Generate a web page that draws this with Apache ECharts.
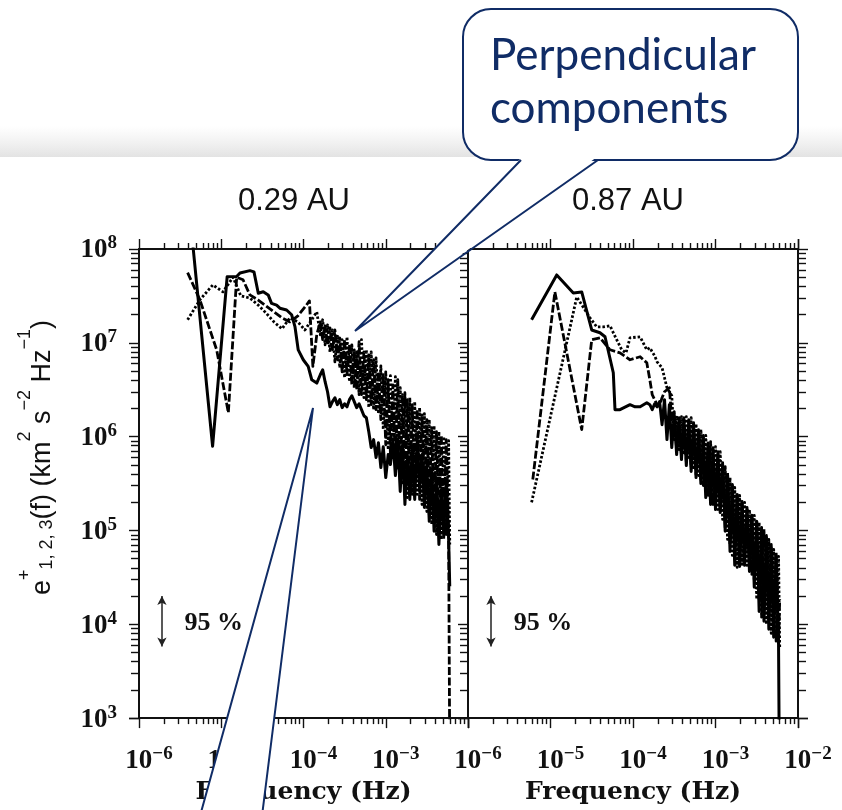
<!DOCTYPE html>
<html><head><meta charset="utf-8">
<script src="https://cdn.jsdelivr.net/npm/echarts@6.0.0/dist/echarts.min.js"></script>
<style>html,body{margin:0;padding:0;background:#fff}#c{width:842px;height:810px}</style>
</head><body><div id="c"></div>
<script>
// ---------------- DATA ----------------
const panelTitles = ['0.29 AU', '0.87 AU'];
const xAxisName = 'Frequency (Hz)';
const calloutText = ['Perpendicular', 'components'];
const confidenceText = '95 %';

// shared high-frequency grid (Hz)
const hfFreq = [1.60e-4,1.71e-4,1.83e-4,1.96e-4,2.10e-4,2.25e-4,2.41e-4,2.58e-4,2.76e-4,2.95e-4,
  3.16e-4,3.38e-4,3.62e-4,3.87e-4,4.14e-4,4.43e-4,4.74e-4,5.07e-4,5.43e-4,5.81e-4,
  6.22e-4,6.65e-4,7.12e-4,7.62e-4,8.15e-4,8.72e-4,9.33e-4,1.00e-3,1.07e-3,1.14e-3,
  1.22e-3,1.31e-3,1.40e-3,1.50e-3,1.60e-3,1.71e-3,1.83e-3,1.96e-3,2.10e-3,2.25e-3,
  2.41e-3,2.58e-3,2.76e-3,2.95e-3,3.16e-3,3.38e-3,3.62e-3,3.87e-3,4.14e-3,4.43e-3,
  4.74e-3,5.07e-3,5.43e-3,5.81e-3,6.00e-3];

// 0.29 AU panel : low-frequency [f, e] points
const leftSolidLow = [[3.9e-6,4.1e8],[7.85e-6,7.9e5],[1.18e-5,5.07e7],[1.54e-5,5.1e7],[1.69e-5,5.56e7],
  [2.23e-5,5.88e7],[2.5e-5,5.7e7],[2.82e-5,3.38e7],[3.24e-5,3.5e7],[3.72e-5,3.24e7],[4.09e-5,2.63e7],
  [4.71e-5,2.52e7],[5.16e-5,2.34e7],[6.23e-5,2.24e7],[7.17e-5,1.99e7],[7.87e-5,1.49e7],[8.63e-5,8.4e6],
  [9.93e-5,6.6e6],[1.14e-4,5.6e6],[1.26e-4,4.04e6],[1.45e-4,3.72e6]];
const leftDashedLow = [[3.9e-6,5.6e7],[5.5e-6,2.87e7],[8.8e-6,8.4e6],[1.22e-5,1.8e6],[1.54e-5,5.0e7],
  [1.84e-5,4.7e7],[2.23e-5,3.24e7],[2.79e-5,2.87e7],[3.49e-5,2.48e7],[4.37e-5,2.14e7],[5.47e-5,1.85e7],
  [6.84e-5,1.67e7],[8.55e-5,1.94e7],[1.07e-4,2.48e7],[1.18e-4,2.8e7],[1.30e-4,5.6e6],[1.45e-4,1.22e7]];
const leftDottedLow = [[3.9e-6,1.76e7],[5.5e-6,2.87e7],[7.9e-6,4.14e7],[1.05e-5,3.49e7],[1.39e-5,5.0e7],
  [1.73e-5,3.16e7],[2.23e-5,3.0e7],[2.79e-5,2.54e7],[3.49e-5,2.09e7],[4.37e-5,1.67e7],[5.47e-5,1.41e7],
  [6.84e-5,1.85e7],[8.55e-5,1.67e7],[1.04e-4,1.37e7],[1.26e-4,1.76e7],[1.45e-4,2.14e7]];
// 0.29 AU panel : values on hfFreq
const leftSolidHf = [4.57e6,5.16e6,3.85e6,3.01e6,2.08e6,2.36e6,2.60e6,2.19e6,2.48e6,2.04e6,
  2.24e6,2.08e6,2.48e6,2.73e6,2.36e6,2.04e6,2.24e6,1.94e6,1.67e6,1.59e6,
  1.13e6,7.64e5,9.3e5,5.98e5,8.6e5,4.68e5,7.8e5,3.66e5,6.44e5,5.04e5,
  9.3e5,3.85e5,9.3e5,2.60e5,8.2e5,1.89e5,6.44e5,2.14e5,7.27e5,2.14e5,
  9.3e5,2.87e5,6.44e5,1.76e5,5.04e5,1.25e5,4.46e5,9.8e4,3.49e5,7.1e4,
  2.73e5,9.5e4,3.49e5,8.43e4,2.54e4];
const leftDashedHf = [1.67e7,1.08e7,1.52e7,9.5e6,1.44e7,8.43e6,1.37e7,6.6e6,1.13e7,4.91e6,
  1.08e7,4.57e6,9.5e6,3.57e6,8.43e6,3.16e6,1.03e7,2.80e6,8.0e6,2.48e6,
  7.45e6,2.19e6,6.6e6,1.94e6,4.91e6,1.52e6,4.57e6,8.2e5,4.04e6,6.44e5,
  3.57e6,5.04e5,4.04e6,3.49e5,2.80e6,2.60e5,2.48e6,2.42e5,2.19e6,2.73e5,
  1.94e6,2.14e5,1.71e6,2.42e5,1.52e6,1.48e5,1.25e6,1.16e5,1.13e6,1.03e5,
  1.03e6,8.02e4,9.3e5,1.03e5,3.7e2];
const leftDottedHf = [1.22e7,1.76e7,9.5e6,1.55e7,8.0e6,1.37e7,6.28e6,1.22e7,5.42e6,1.08e7,
  4.24e6,1.16e7,3.85e6,9.5e6,3.32e6,8.0e6,2.80e6,1.08e7,2.60e6,8.43e6,
  2.04e6,8.0e6,1.94e6,6.92e6,1.76e6,5.69e6,1.19e6,4.91e6,7.27e5,4.46e6,
  5.7e5,4.35e6,4.46e5,3.32e6,3.09e5,2.94e6,2.24e5,2.60e6,2.42e5,2.36e6,
  2.42e5,2.04e6,1.89e5,1.76e6,1.59e5,1.52e6,1.16e5,1.31e6,9.06e4,1.13e6,
  8.02e4,1.0e6,9.06e4,9.06e5,7.1e4];

// 0.87 AU panel : low-frequency [f, e] points
const rightSolidLow = [[5.9e-6,1.76e7],[1.19e-5,5.29e7],[1.89e-5,3.4e7],[2.39e-5,3.49e7],[3.16e-5,1.37e7],
  [3.98e-5,1.28e7],[4.58e-5,1.16e7],[5.77e-5,4.8e6],[6.05e-5,1.94e6],[6.95e-5,1.94e6],[9.2e-5,2.19e6],
  [1.06e-4,2.08e6],[1.22e-4,2.08e6],[1.47e-4,2.3e6]];
const rightDashedLow = [[6.1e-6,3.49e5],[1.13e-5,3.49e7],[2.39e-5,1.19e6],[3.16e-5,1.08e7],[3.98e-5,1.13e7],
  [5.26e-5,8.43e6],[6.95e-5,7.83e6],[9.2e-5,6.6e6],[1.22e-4,7.1e6],[1.47e-4,6.12e6]];
const rightDottedLow = [[5.9e-6,1.99e5],[2.08e-5,3.08e7],[3.01e-5,1.85e7],[3.63e-5,1.48e7],[4.37e-5,1.48e7],
  [5.26e-5,1.52e7],[6.34e-5,1.08e7],[7.29e-5,8.43e6],[8.22e-5,7.8e6],[9.2e-5,1.13e7],[1.22e-4,1.16e7],
  [1.47e-4,8.43e6]];
// 0.87 AU panel : values on hfFreq
const rightSolidHf = [2.19e6,1.94e6,2.24e6,2.08e6,2.36e6,1.34e6,2.48e6,9.3e5,2.19e6,7.64e5,
  1.71e6,6.44e5,1.52e6,5.7e5,1.52e6,4.91e5,1.45e6,4.25e5,1.34e6,3.66e5,
  1.13e6,3.16e5,9.75e5,2.24e5,8.2e5,1.89e5,7.27e5,1.67e5,6.44e5,1.55e5,
  5.04e5,9.8e4,3.94e5,5.98e4,3.01e5,4.25e4,2.42e5,4.14e4,1.99e5,4.25e4,
  1.67e5,3.66e4,1.45e5,2.48e4,1.25e5,1.37e4,1.03e5,1.08e4,8.43e4,8.85e3,
  6.6e4,7.28e3,5.42e4,6.13e3,8.5e1];
const rightDashedHf = [4.04e6,2.80e6,2.48e6,2.19e6,2.14e6,2.60e6,3.01e6,3.16e6,3.32e6,1.52e6,
  1.85e6,7.27e5,1.59e6,6.44e5,1.59e6,5.42e5,1.52e6,4.68e5,1.41e6,3.94e5,
  1.19e6,3.49e5,1.03e6,2.60e5,8.6e5,2.04e5,7.64e5,1.76e5,6.9e5,1.59e5,
  5.28e5,1.08e5,4.14e5,7.1e4,3.09e5,4.9e4,2.48e5,4.35e4,2.04e5,4.9e4,
  1.76e5,4.04e4,1.48e5,3.0e4,1.28e5,1.85e4,1.08e5,1.37e4,8.85e4,1.13e4,
  7.1e4,8.85e3,5.84e4,6.92e3,1.85e4];
const rightDottedHf = [8.85e6,8.0e6,7.28e6,6.28e6,5.83e6,5.42e6,4.24e6,3.32e6,3.01e6,2.73e6,
  9.3e5,1.67e6,7.27e5,1.63e6,6.44e5,1.63e6,5.7e5,1.59e6,4.46e5,1.37e6,
  3.85e5,1.19e6,3.01e5,1.03e6,2.36e5,8.85e5,1.89e5,7.8e5,1.67e5,6.9e5,
  1.31e5,4.8e5,8.02e4,3.66e5,5.42e4,2.87e5,4.04e4,2.36e5,4.35e4,1.99e5,
  4.25e4,1.67e5,3.4e4,1.45e5,1.85e4,1.22e5,1.19e4,1.03e5,1.0e4,8.02e4,
  8.0e3,6.3e4,6.6e3,5.29e4,5.69e3];

// 95 % confidence bar (f, lower, upper) and its label anchor
const confBar = {f: 1.9e-6, lo: 5.8e3, hi: 2.0e4};
const confLabel = [8.1e-6, 1.03e4];

// ---------------- CHART ----------------
const INK = '#111';
const NAVY = '#102c66';
const TSERIF = "'Liberation Serif', 'Times New Roman', serif";
const WSERIF = "'DejaVu Serif', serif";
const SANS = "'Liberation Sans', Arial, sans-serif";

function join(low, hf) { return low.concat(hfFreq.map((f, i) => [f, hf[i]])); }
function supText(v) { return String(Math.round(Math.log10(v))).replace('-', '\u2212'); }

const numRich = {
  sp: {width: 20, fontSize: 14},
  b: {fontFamily: TSERIF, fontWeight: 'bold', fontSize: 27, lineHeight: 30, verticalAlign: 'bottom', color: INK},
  s: {fontFamily: TSERIF, fontWeight: 'bold', fontSize: 19, lineHeight: 14, verticalAlign: 'top', color: INK}
};

const tickStyle = {color: INK, width: 1.4};
function xAx(grid, pos, showLabel, hideMax, withName) {
  return {
    type: 'log', logBase: 10, gridIndex: grid, position: pos, min: 1e-6, max: 1e-2,
    axisLine: {show: true, onZero: false, lineStyle: {color: INK, width: 2}},
    axisTick: {show: true, inside: false, length: 10, lineStyle: tickStyle},
    minorTick: {show: true, splitNumber: 9, length: 6, lineStyle: tickStyle},
    splitLine: {show: false}, minorSplitLine: {show: false},
    axisLabel: {show: showLabel, margin: 26, rich: numRich,
      formatter: v => (hideMax && v > 5e-3) ? '' : '{sp| }{b|10}{s|' + supText(v) + '}'},
    name: withName ? xAxisName : '', nameLocation: 'middle', nameGap: 60,
    nameTextStyle: {fontFamily: WSERIF, fontSize: 25, fontWeight: 'bold', color: INK, lineHeight: 26}
  };
}
function yAx(grid, pos, showLabel, withName) {
  const ax = {
    type: 'log', logBase: 10, gridIndex: grid, position: pos, min: 1e3, max: 1e8,
    axisLine: {show: true, onZero: false, lineStyle: {color: INK, width: 2}},
    axisTick: {show: true, inside: false, length: 10, lineStyle: tickStyle},
    minorTick: {show: true, splitNumber: 9, length: 8, lineStyle: tickStyle},
    splitLine: {show: false}, minorSplitLine: {show: false},
    axisLabel: {show: showLabel, margin: 22, rich: numRich,
      formatter: v => '{b|10}{s|' + supText(v) + '}'}
  };
  if (withName) {
    ax.name = '{b|e}{p|+}{sb|1, 2, 3}{b|(f) (km}{p|2}{b| s}{p|\u22122}{b| Hz}{p|\u22121}{b|)}';
    ax.nameLocation = 'middle';
    ax.nameRotate = 90;
    ax.nameGap = 83;
    ax.nameTextStyle = {
      padding: [0, 0, 0, 52],
      rich: {
        b: {fontFamily: SANS, fontSize: 27, lineHeight: 40, verticalAlign: 'bottom', color: INK},
        p: {fontFamily: SANS, fontSize: 18, lineHeight: 14, verticalAlign: 'top', color: INK},
        sb: {fontFamily: SANS, fontSize: 18, lineHeight: 30, verticalAlign: 'bottom', color: INK}
      }
    };
  }
  return ax;
}

function line(data, xi, yi, kind, extra) {
  const s = {
    type: 'line', data: data, xAxisIndex: xi, yAxisIndex: yi, showSymbol: false, symbol: 'none',
    animation: false, z: 3,
    lineStyle: {color: '#000', width: kind === 'solid' ? 3.0 : 2.8, join: 'round',
      type: kind === 'solid' ? 'solid' : (kind === 'dashed' ? [8, 2.5] : [2.5, 2])}
  };
  return Object.assign(s, extra || {});
}
function confMarks() {
  return {
    markLine: {silent: true, symbol: ['arrow', 'arrow'], symbolSize: [7, 9], animation: false,
      lineStyle: {color: '#222', width: 1.5, type: 'solid'}, label: {show: false},
      data: [[{coord: [confBar.f, confBar.hi]}, {coord: [confBar.f, confBar.lo]}]]},
    markPoint: {silent: true, symbol: 'circle', symbolSize: 2, animation: false,
      itemStyle: {color: 'rgba(0,0,0,0)'},
      label: {show: true, position: 'inside', formatter: confidenceText, fontFamily: TSERIF,
        fontWeight: 'bold', fontSize: 26, color: INK},
      data: [{coord: confLabel}]}
  };
}

const option = {
  animation: false,
  backgroundColor: '#fff',
  title: [
    {text: panelTitles[0], left: 294, top: 186, textAlign: 'center', padding: 0,
      textStyle: {fontFamily: SANS, fontSize: 31, fontWeight: 'normal', color: INK}},
    {text: panelTitles[1], left: 628, top: 186, textAlign: 'center', padding: 0,
      textStyle: {fontFamily: SANS, fontSize: 31, fontWeight: 'normal', color: INK}}
  ],
  grid: [
    {left: 139, top: 249, width: 329, height: 470, containLabel: false},
    {left: 468, top: 249, width: 330, height: 470, containLabel: false}
  ],
  xAxis: [xAx(0, 'bottom', true, true, true), xAx(0, 'top', false, false, false),
          xAx(1, 'bottom', true, false, true), xAx(1, 'top', false, false, false)],
  yAxis: [yAx(0, 'left', true, true), yAx(1, 'left', false, false), yAx(1, 'right', false, false)],
  series: [
    line(join(leftDottedLow, leftDottedHf), 0, 0, 'dotted'),
    line(join(leftDashedLow, leftDashedHf), 0, 0, 'dashed'),
    line(join(leftSolidLow, leftSolidHf), 0, 0, 'solid', confMarks()),
    line(join(rightDottedLow, rightDottedHf), 2, 1, 'dotted'),
    line(join(rightDashedLow, rightDashedHf), 2, 1, 'dashed'),
    line(join(rightSolidLow, rightSolidHf), 2, 1, 'solid', confMarks())
  ],
  graphic: [
    {type: 'rect', silent: true, z: -10, shape: {x: 0, y: 126, width: 842, height: 31},
      style: {fill: new echarts.graphic.LinearGradient(0, 0, 0, 1, [
        {offset: 0, color: 'rgba(232,232,232,0)'}, {offset: 1, color: '#e3e3e3'}])}},
    // upper callout: rounded box, white pointer fill, pointer outline
    {type: 'rect', silent: true, z: 100, shape: {x: 463, y: 9, width: 335, height: 151, r: 28},
      style: {fill: '#fff', stroke: NAVY, lineWidth: 2}},
    {type: 'polygon', silent: true, z: 101, shape: {points: [[522, 157], [355, 331], [597, 157]]},
      style: {fill: '#fff'}},
    {type: 'polyline', silent: true, z: 102, shape: {points: [[521, 160], [355, 331], [598, 160]]},
      style: {fill: null, stroke: NAVY, lineWidth: 2}},
    {type: 'text', silent: true, z: 103, x: 490, y: 56,
      style: {text: calloutText[0], fontFamily: 'Lato, "Open Sans", sans-serif', fontSize: 44, fill: NAVY, verticalAlign: 'middle'}},
    {type: 'text', silent: true, z: 103, x: 490, y: 109,
      style: {text: calloutText[1], fontFamily: 'Lato, "Open Sans", sans-serif', fontSize: 44, fill: NAVY, verticalAlign: 'middle'}},
    // lower callout pointer (body below the page)
    {type: 'polygon', silent: true, z: 101, shape: {points: [[313, 408], [262, 816], [200, 816]]},
      style: {fill: '#fff'}},
    {type: 'polyline', silent: true, z: 102, shape: {points: [[200, 816], [313, 408], [262, 816]]},
      style: {fill: null, stroke: NAVY, lineWidth: 2}}
  ]
};

const chart = echarts.init(document.getElementById('c'), null, {renderer: 'canvas'});
chart.setOption(option);
</script></body></html>
